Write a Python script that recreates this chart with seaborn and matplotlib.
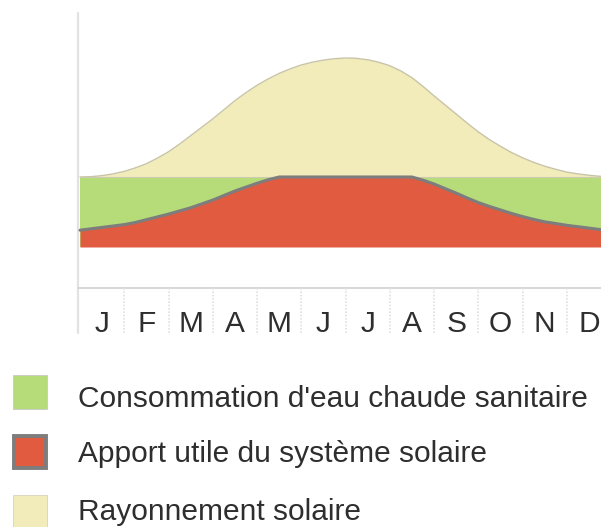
import matplotlib
matplotlib.use("Agg")
import matplotlib.pyplot as plt
from matplotlib.patches import Rectangle
import numpy as np
import pandas as pd
import seaborn as sns

# Month position (in months from 1 January), sampled every quarter month
months_pos = [i / 4 for i in range(49)]
# Hot water demand (relative units, constant over the year)
demand = [100] * 49
# Useful solar contribution
solar_gain = [24, 26, 28, 30, 32, 35, 39, 43, 47, 51.5, 56, 61.5,
              67, 73.5, 80, 85.5, 91, 96, 100, 100, 100, 100, 100, 100,
              100, 100, 100, 100, 100, 100, 100, 95.5, 90, 83.5, 77, 70,
              63.5, 58, 53, 48, 43.5, 39.5, 36, 33.5, 31, 29, 27, 25, 23]
# Solar irradiation
irradiation = [100, 100.5, 102, 104.5, 108, 113, 119, 127, 136, 147, 159, 171,
               183, 196, 209, 220.5, 231, 240, 248, 254.5, 260, 264, 267, 269,
               270, 269.5, 267.5, 264, 259, 251.5, 242, 229.5, 216, 203, 190, 177,
               164.5, 153.5, 144, 135, 127.5, 121, 115.5, 111, 107, 104.5, 102.5, 101, 100]

month_labels = ["J", "F", "M", "A", "M", "J", "J", "A", "S", "O", "N", "D"]
legend_labels = ["Consommation d'eau chaude sanitaire",
                 "Apport utile du système solaire",
                 "Rayonnement solaire"]

GREEN = "#B5DC78"
RED = "#E05B40"
YELLOW = "#F2EBBA"
OUTLINE = "#7D7D7D"
TEXT = "#2E2E2E"

sns.set_theme(style="white")
plt.rcParams["font.family"] = ["Liberation Sans", "DejaVu Sans"]

W, H = 601, 527
fig = plt.figure(figsize=(W / 100, H / 100), dpi=100)
ax = fig.add_axes([0, 0, 1, 1])
ax.set_axis_off()

# pixel geometry of the plotting frame
px_per_month = 44.25
x0_px = 80
base_px = 247
px_per_unit = 0.7
ax.set_xlim(-x0_px / px_per_month, (W - x0_px) / px_per_month)
ax.set_ylim(-(H - base_px) / px_per_unit, base_px / px_per_unit)

df = pd.DataFrame({"m": months_pos, "demand": demand,
                   "gain": solar_gain, "irr": irradiation})

# filled areas
ax.fill_between(df["m"], df["demand"], df["irr"], color=YELLOW, lw=0, zorder=1)
ax.fill_between(df["m"], 0, df["demand"], color=GREEN, lw=0, zorder=2)
ax.fill_between(df["m"], 0, df["gain"], color=RED, lw=0, zorder=3)

# outlines
sns.lineplot(data=df, x="m", y="irr", ax=ax, color="#C9C4A6", lw=1.0,
             zorder=4, estimator=None, legend=False)
sns.lineplot(data=df, x="m", y="demand", ax=ax, color="#CFCBB0", lw=0.8,
             zorder=4, estimator=None, legend=False)
sns.lineplot(data=df, x="m", y="gain", ax=ax, color=OUTLINE, lw=2.2,
             zorder=5, estimator=None, legend=False)

# frame: vertical axis, horizontal axis and month cells
def v(px):
    return (base_px - px) / px_per_unit

x_axis = -2 / px_per_month
ax.plot([x_axis, x_axis], [v(333), v(13)], color="#E2E2E2", lw=1.6, zorder=0)
ax.plot([x_axis, 13], [v(288), v(288)], color="#D4D4D4", lw=1.3, zorder=0)
for i in range(1, 12):
    ax.plot([i, i], [v(288), v(333)], color="#E0E0E0", lw=1.2,
            ls=(0, (1, 1)), zorder=0)
for i, lab in enumerate(month_labels):
    ax.text(i + 0.5, v(332), lab, ha="center", va="baseline",
            fontsize=21.5, color=TEXT)

# legend
def fx(x):
    return x / W

def fy(y):
    return 1 - y / H

squares = [
    dict(xy=(13, 409), w=34, h=34, fc=GREEN, ec="#C8C8C8", lw=0.6),
    dict(xy=(14, 468), w=32, h=32, fc=RED, ec=OUTLINE, lw=2.8),
    dict(xy=(13, 529), w=34, h=34, fc=YELLOW, ec="#D6D2BC", lw=0.6),
]
baselines = [407, 462, 520]
for sq, lab, base in zip(squares, legend_labels, baselines):
    x, y = sq["xy"]
    fig.add_artist(Rectangle((fx(x), fy(y)), sq["w"] / W, sq["h"] / H,
                             transform=fig.transFigure, facecolor=sq["fc"],
                             edgecolor=sq["ec"], lw=sq["lw"]))
    fig.text(fx(78), fy(base), lab, ha="left", va="baseline",
             fontsize=21.5, color=TEXT)

fig.savefig("out.png", dpi=100)
